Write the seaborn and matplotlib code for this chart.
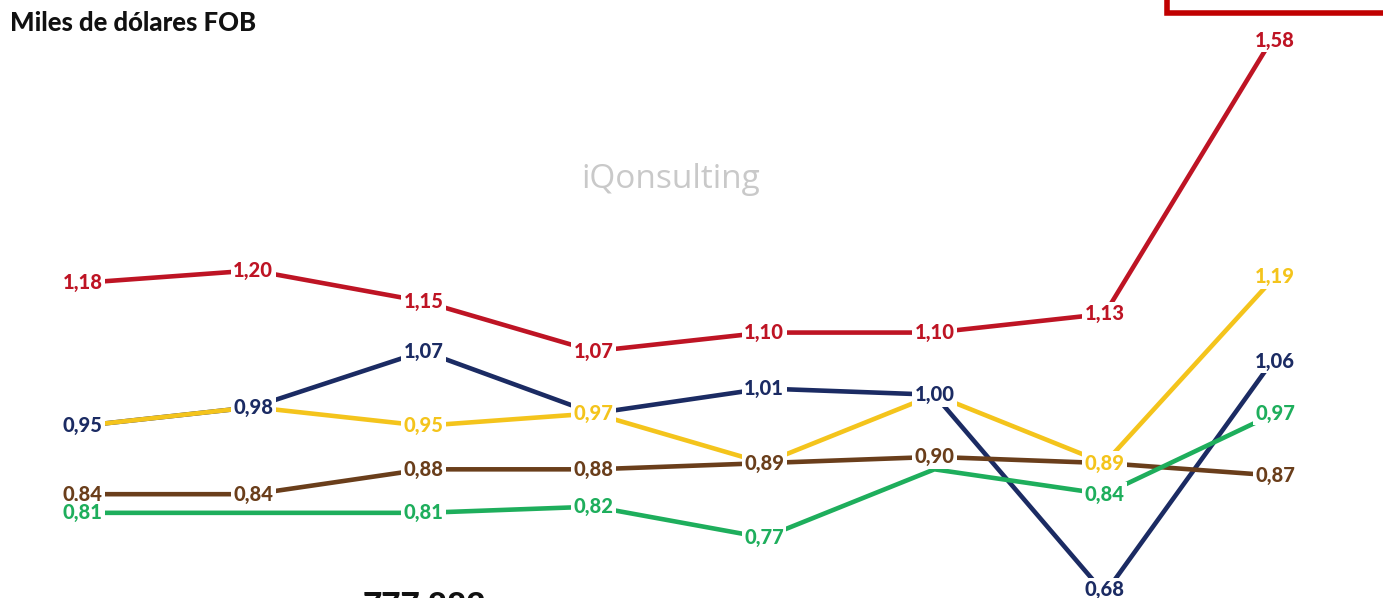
import pandas as pd
import seaborn as sns
import matplotlib.pyplot as plt
from matplotlib.patches import Rectangle

# valores por serie (miles de dólares FOB)
periodos = list(range(8))
rojo = [1.18, 1.20, 1.15, 1.07, 1.10, 1.10, 1.13, 1.58]
azul = [0.95, 0.98, 1.07, 0.97, 1.01, 1.00, 0.68, 1.06]
amarillo = [0.95, 0.98, 0.95, 0.97, 0.89, 1.00, 0.89, 1.19]
cafe = [0.84, 0.84, 0.88, 0.88, 0.89, 0.90, 0.89, 0.87]
verde = [0.81, 0.81, 0.81, 0.82, 0.77, 0.88, 0.84, 0.97]

series = {"rojo": rojo, "azul": azul, "amarillo": amarillo, "cafe": cafe, "verde": verde}
colores = {"rojo": "#BE1424", "azul": "#1B2B63", "amarillo": "#F4C41C",
           "cafe": "#6A3E1B", "verde": "#1EAE5C"}

# etiquetas tapadas por otra serie en el original
ocultas = {("amarillo", 0), ("amarillo", 1), ("verde", 1), ("azul", 3),
           ("amarillo", 4), ("amarillo", 5), ("verde", 5), ("cafe", 6)}
# pequeños desplazamientos verticales de algunas etiquetas
ajuste = {("rojo", 7): -0.01, ("azul", 6): 0.006, ("azul", 7): -0.006}

df = pd.DataFrame([{"periodo": p, "serie": s, "valor": v}
                   for s, vals in series.items() for p, v in zip(periodos, vals)])

sns.set_style("white")
plt.rcParams['font.family'] = ['Lato', 'DejaVu Sans']

fig = plt.figure(figsize=(13.83, 5.98), dpi=100)
ax = fig.add_axes([0, 0, 1, 1])

sns.lineplot(data=df, x="periodo", y="valor", hue="serie", palette=colores,
             linewidth=3.3, sort=False, legend=False, ax=ax, zorder=2)

for s, vals in series.items():
    for p, v in zip(periodos, vals):
        if (s, p) in ocultas:
            continue
        ax.text(p, v + ajuste.get((s, p), 0.0), f"{v:.2f}".replace(".", ","),
                ha="center", va="center", fontsize=14.5, fontweight="black",
                color=colores[s], zorder=5,
                bbox=dict(boxstyle="square,pad=0.12", fc="white", ec="none"))

ax.set_xlim(-0.487, 7.634)
ax.set_ylim(0.673, 1.635)
ax.axis("off")

fig.text(0.007, 0.962, "Miles de dólares FOB", fontsize=18.5, fontweight="black",
         color="#111111", ha="left", va="center")
fig.text(0.485, 0.70, "iQonsulting", fontsize=24, color="#C9C9C9",
         ha="center", va="center", family=["Open Sans", "DejaVu Sans"])
fig.text(0.307, -0.014, "777.882", fontsize=24, fontweight="black",
         color="#111111", ha="center", va="center")
fig.patches.append(Rectangle((0.8435, 0.978), 0.2, 0.1, transform=fig.transFigure,
                             fc="white", ec="#C00000", lw=4, clip_on=False))

fig.savefig("out.png", dpi=100)
